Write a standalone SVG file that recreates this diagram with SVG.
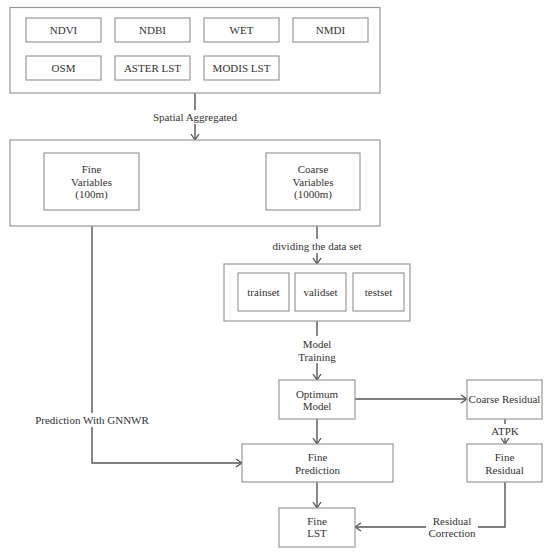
<svg xmlns="http://www.w3.org/2000/svg" width="550" height="554" viewBox="0 0 550 554">
<style>
.box{fill:#fff;stroke:#999;stroke-width:1.2}
.t{font-family:'Liberation Serif','DejaVu Serif',serif;font-size:11px;fill:#333;text-anchor:middle}
.c{fill:none;stroke:#555;stroke-width:1.4}
.bg{fill:#fff}
</style>
<defs>
<marker id="ah" viewBox="0 0 8 10" refX="7" refY="5" markerWidth="8" markerHeight="10" markerUnits="userSpaceOnUse" orient="auto">
<path d="M1,1 L7,5 L1,9" fill="none" stroke="#555" stroke-width="1.3"/>
</marker>
</defs>
<rect width="550" height="554" fill="#fff"/>
<g id="connectors">
<line class="c" x1="195" y1="93" x2="195" y2="140" marker-end="url(#ah)"/>
<line class="c" x1="317" y1="226" x2="317" y2="264" marker-end="url(#ah)"/>
<line class="c" x1="317" y1="321" x2="317" y2="380" marker-end="url(#ah)"/>
<line class="c" x1="355" y1="399" x2="467" y2="399" marker-end="url(#ah)"/>
<line class="c" x1="317" y1="419" x2="317" y2="444" marker-end="url(#ah)"/>
<line class="c" x1="505" y1="419" x2="505" y2="444" marker-end="url(#ah)"/>
<line class="c" x1="317" y1="482" x2="317" y2="508" marker-end="url(#ah)"/>
<polyline class="c" points="92,226 92,463 242,463" marker-end="url(#ah)"/>
<polyline class="c" points="505,482 505,527 355,527" marker-end="url(#ah)"/>
<rect class="bg" x="151" y="110" width="88" height="14"/>
<text class="t" x="195" y="121" font-family="Liberation Serif">Spatial Aggregated</text>
<rect class="bg" x="272" y="239" width="90" height="14"/>
<text class="t" x="317" y="250">dividing the data set</text>
<rect class="bg" x="295" y="336" width="44" height="27"/>
<text class="t" x="317" y="348">Model</text>
<text class="t" x="317" y="361">Training</text>
<rect class="bg" x="36" y="413" width="112" height="14"/>
<text class="t" x="92" y="424">Prediction With GNNWR</text>
<rect class="bg" x="489" y="424" width="32" height="14"/>
<text class="t" x="505" y="435">ATPK</text>
<rect class="bg" x="426" y="513" width="52" height="27"/>
<text class="t" x="452" y="525">Residual</text>
<text class="t" x="452" y="537">Correction</text>
</g>
<g id="inputs">
<rect class="box" x="10" y="7.5" width="370" height="85.5"/>
</g>
<g id="ndvi"><rect class="box" x="26" y="18" width="75" height="24"/><text class="t" x="63.5" y="34">NDVI</text></g>
<g id="ndbi"><rect class="box" x="115" y="18" width="75" height="24"/><text class="t" x="152.5" y="34">NDBI</text></g>
<g id="wet"><rect class="box" x="204" y="18" width="75" height="24"/><text class="t" x="241.5" y="34">WET</text></g>
<g id="nmdi"><rect class="box" x="293" y="18" width="75" height="24"/><text class="t" x="330.5" y="34">NMDI</text></g>
<g id="osm"><rect class="box" x="26" y="56" width="75" height="24"/><text class="t" x="63.5" y="72">OSM</text></g>
<g id="aster"><rect class="box" x="115" y="56" width="75" height="24"/><text class="t" x="152.5" y="72">ASTER LST</text></g>
<g id="modis"><rect class="box" x="204" y="56" width="75" height="24"/><text class="t" x="241.5" y="72">MODIS LST</text></g>
<g id="variables"><rect class="box" x="10" y="140" width="370" height="86"/></g>
<g id="fine-var"><rect class="box" x="44" y="153" width="95" height="57"/>
<text class="t" x="91.5" y="173">Fine</text><text class="t" x="91.5" y="186">Variables</text><text class="t" x="91.5" y="198">(100m)</text></g>
<g id="coarse-var"><rect class="box" x="266" y="153" width="94" height="57"/>
<text class="t" x="313" y="173">Coarse</text><text class="t" x="313" y="186">Variables</text><text class="t" x="313" y="198">(1000m)</text></g>
<g id="dataset"><rect class="box" x="224" y="264" width="186" height="57"/></g>
<g id="trainset"><rect class="box" x="238" y="273" width="51" height="38"/><text class="t" x="263.5" y="296">trainset</text></g>
<g id="validset"><rect class="box" x="295" y="273" width="51" height="38"/><text class="t" x="320.5" y="296">validset</text></g>
<g id="testset"><rect class="box" x="353" y="273" width="51" height="38"/><text class="t" x="378.5" y="296">testset</text></g>
<g id="optimum"><rect class="box" x="279" y="380" width="76" height="39"/>
<text class="t" x="317" y="398">Optimum</text><text class="t" x="317" y="410">Model</text></g>
<g id="coarse-res"><rect class="box" x="467" y="380" width="75" height="39"/>
<text class="t" x="504.5" y="403">Coarse Residual</text></g>
<g id="fine-pred"><rect class="box" x="242" y="444" width="151" height="38"/>
<text class="t" x="317.5" y="461">Fine</text><text class="t" x="317.5" y="474">Prediction</text></g>
<g id="fine-res"><rect class="box" x="467" y="444" width="75" height="38"/>
<text class="t" x="504.5" y="461">Fine</text><text class="t" x="504.5" y="474">Residual</text></g>
<g id="fine-lst"><rect class="box" x="279" y="508" width="76" height="39"/>
<text class="t" x="317" y="525">Fine</text><text class="t" x="317" y="537">LST</text></g>
</svg>
